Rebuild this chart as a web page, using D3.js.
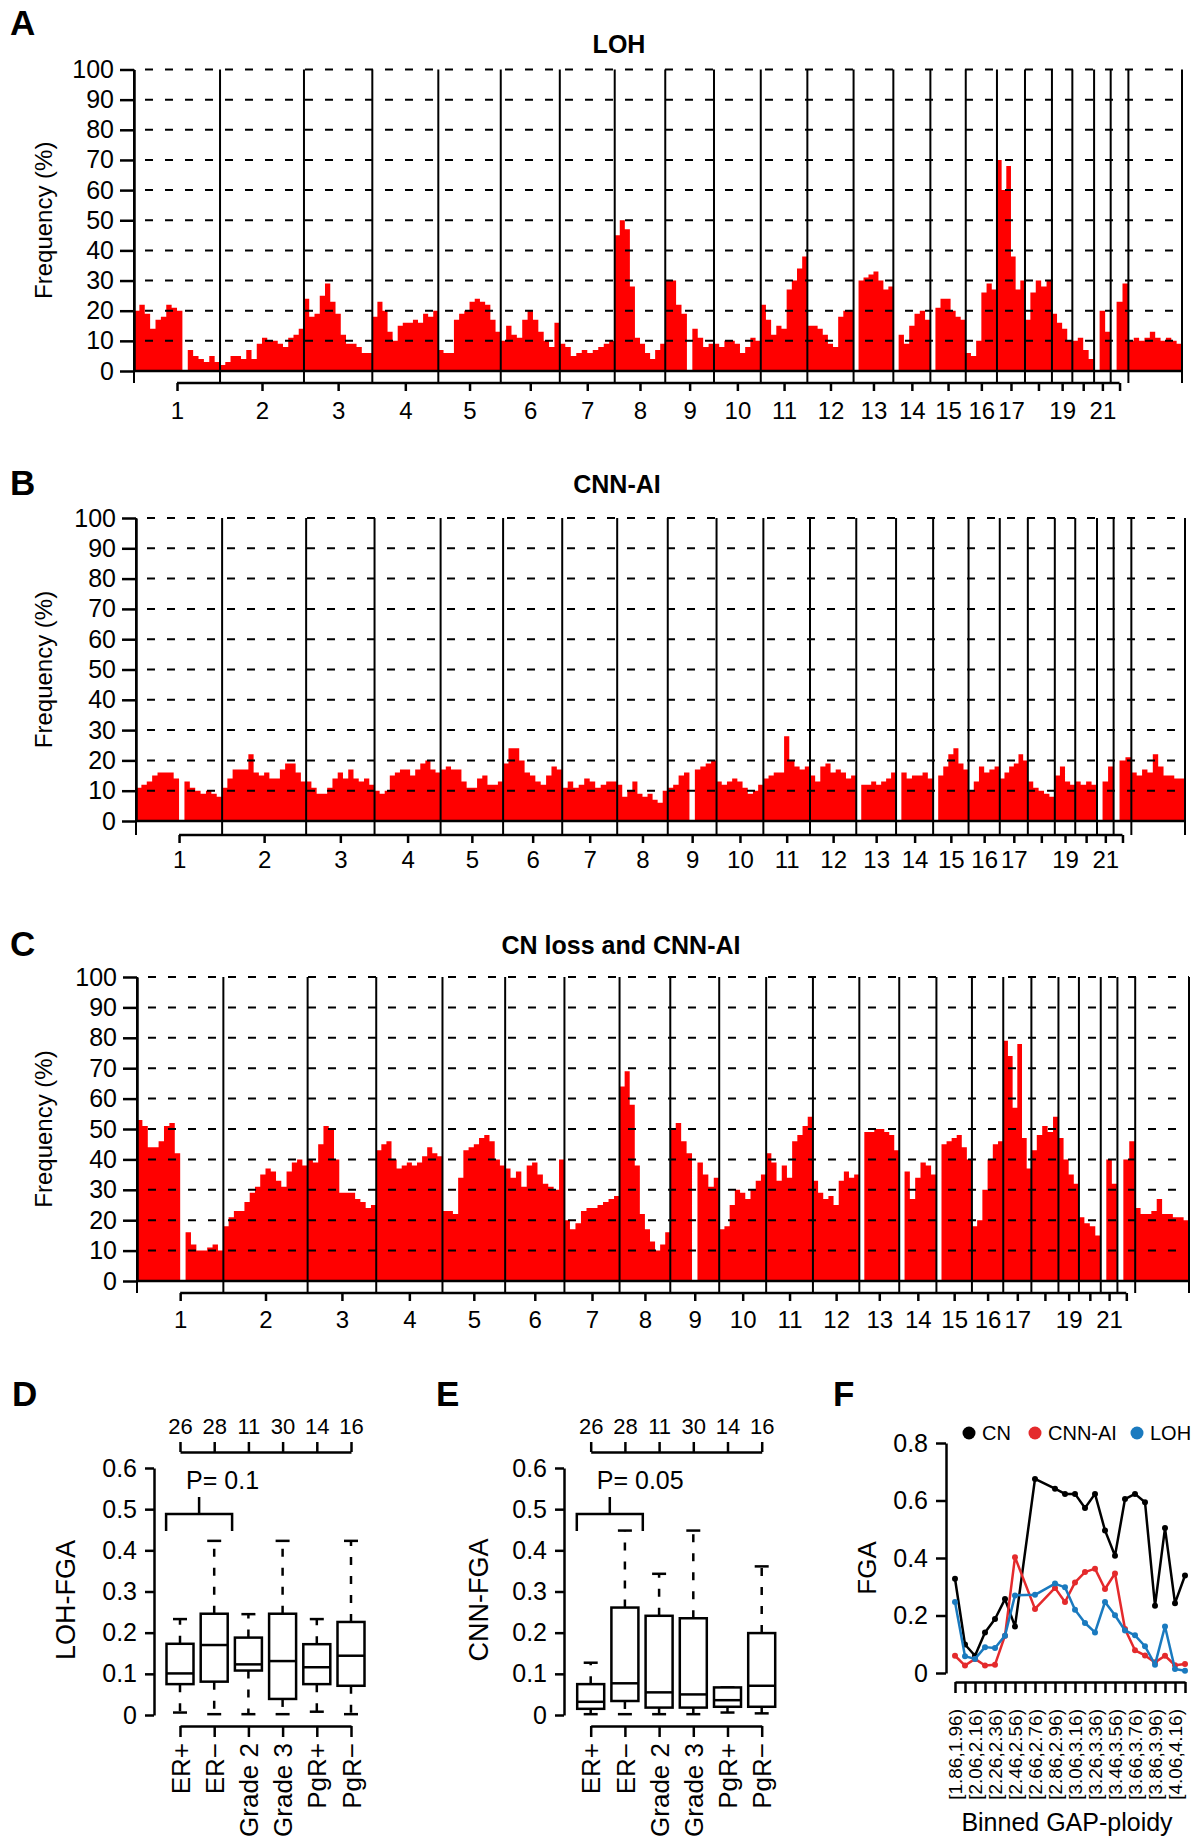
<!DOCTYPE html>
<html>
<head>
<meta charset="utf-8">
<title>LOH, CNN-AI and FGA</title>
<script src="https://cdn.jsdelivr.net/npm/d3@7"></script>
<style>
  body { margin: 0; background: #fff; }
</style>
</head>
<body>
<div id="chart"></div>
<script>
// chromosome layout, hg19 lengths in Mb
var chromNames = ["1","2","3","4","5","6","7","8","9","10","11","12","13","14","15","16","17","18","19","20","21","22","X"];
var chromLengths = [249.25, 243.2, 198.0, 191.2, 180.9, 171.1, 159.1, 146.4, 141.2, 135.5, 135.0, 133.9,
                    115.2, 107.3, 102.5, 90.4, 81.2, 78.1, 59.1, 63.0, 48.1, 51.3, 155.3];
// labels under the ticks of chr 1..22 (R dropped the ones that collide)
var chromLabels = ["1","2","3","4","5","6","7","8","9","10","11","12","13","14","15","16","17","","19","","21",""];

// frequency (%) per chromosome, evenly spaced segments
var lohFreq = [
  [20, 22, 19, 14, 17, 18, 22, 21, 20, 0, 7, 5, 4, 3, 5, 3],
  [2, 3, 5, 5, 4, 7, 4, 9, 11, 10, 10, 9, 8, 11, 12, 14],
  [24, 18, 19, 25, 29, 23, 19, 12, 9, 9, 8, 6, 6],
  [18, 23, 20, 13, 10, 15, 16, 16, 17, 16, 19, 18, 20],
  [7, 6, 6, 17, 19, 20, 23, 24, 23, 22, 17, 13],
  [10, 15, 12, 11, 17, 20, 17, 13, 10, 8, 16],
  [9, 8, 5, 6, 7, 6, 7, 8, 9, 10],
  [45, 50, 47, 28, 11, 9, 6, 4, 7, 9],
  [30, 30, 22, 19, 0, 14, 11, 8, 9],
  [9, 8, 10, 10, 9, 6, 8, 11, 10],
  [22, 17, 12, 15, 14, 27, 30, 34, 38],
  [15, 15, 14, 12, 9, 8, 18, 20, 20],
  [0, 30, 31, 32, 33, 30, 27, 28],
  [0, 12, 9, 15, 19, 20, 17],
  [0, 21, 24, 24, 20, 18, 17],
  [6, 5, 10, 26, 29, 27],
  [70, 60, 68, 38, 27, 30],
  [17, 26, 30, 28, 30],
  [19, 16, 14, 10],
  [10, 11, 7, 4],
  [0, 20, 13],
  [0, 23, 29],
  [10, 11, 10, 11, 13, 11, 10, 11, 10, 9]
];
var cnnaiFreq = [
  [11, 12, 13, 15, 16, 16, 16, 14, 0, 13, 11, 10, 9, 10, 9, 8],
  [11, 14, 17, 17, 17, 22, 16, 15, 16, 14, 14, 17, 19, 19, 16, 13],
  [13, 11, 9, 9, 11, 14, 16, 14, 17, 14, 13, 14, 12],
  [10, 9, 10, 15, 16, 17, 17, 15, 17, 19, 20, 17, 16],
  [17, 18, 17, 17, 13, 11, 11, 14, 15, 12, 12, 13],
  [19, 24, 24, 20, 16, 15, 13, 12, 15, 18, 17],
  [11, 13, 11, 12, 14, 13, 11, 12, 13, 13],
  [12, 8, 10, 13, 9, 8, 9, 7, 6, 10],
  [11, 12, 15, 16, 0, 17, 18, 19, 20],
  [13, 12, 13, 14, 13, 11, 9, 10, 12],
  [14, 15, 16, 16, 28, 20, 18, 17, 18],
  [15, 13, 18, 19, 16, 17, 16, 14, 15],
  [0, 12, 12, 13, 12, 13, 14, 16],
  [0, 16, 14, 15, 15, 16, 14],
  [0, 15, 18, 22, 24, 19, 17],
  [10, 13, 18, 16, 17, 18],
  [14, 16, 18, 19, 22, 20],
  [13, 11, 10, 9, 8],
  [15, 18, 13, 12],
  [13, 12, 13, 12],
  [0, 13, 18],
  [0, 20, 21],
  [16, 15, 17, 16, 22, 18, 15, 15, 14, 14]
];
var lossCnnaiFreq = [
  [53, 51, 44, 44, 46, 51, 52, 42, 0, 16, 12, 10, 10, 11, 12, 10],
  [18, 21, 23, 23, 26, 29, 31, 35, 37, 36, 33, 31, 36, 39, 40, 38],
  [40, 39, 45, 51, 50, 40, 29, 29, 29, 27, 26, 24, 25],
  [43, 45, 46, 40, 37, 38, 39, 38, 39, 41, 44, 42, 41],
  [23, 23, 22, 34, 43, 44, 45, 47, 48, 46, 40, 38],
  [37, 34, 36, 31, 38, 39, 35, 32, 31, 30, 40],
  [20, 17, 19, 23, 24, 24, 25, 26, 27, 28],
  [64, 69, 58, 38, 22, 17, 13, 10, 12, 16],
  [50, 52, 46, 42, 0, 39, 35, 31, 34],
  [17, 18, 25, 30, 29, 27, 30, 33, 35],
  [42, 39, 33, 38, 34, 46, 48, 51, 54],
  [33, 29, 27, 28, 25, 33, 36, 34, 35],
  [0, 49, 49, 50, 50, 49, 48, 43],
  [0, 36, 27, 34, 39, 38, 35],
  [0, 45, 46, 47, 48, 44, 40],
  [18, 20, 30, 40, 45, 46],
  [79, 74, 57, 78, 47, 37],
  [43, 48, 51, 49, 54],
  [47, 40, 35, 32],
  [21, 19, 18, 15],
  [0, 40, 32],
  [0, 40, 46],
  [24, 22, 22, 23, 27, 22, 22, 21, 21, 20]
];

// boxplots: [lower whisker, Q1, median, Q3, upper whisker]
var boxGroups = ["ER+", "ER\u2212", "Grade 2", "Grade 3", "PgR+", "PgR\u2212"];
var groupCounts = [26, 28, 11, 30, 14, 16];
var lohFgaStats = [
  [0.006, 0.075, 0.101, 0.173, 0.233],
  [0.002, 0.081, 0.170, 0.246, 0.423],
  [0.002, 0.108, 0.123, 0.188, 0.245],
  [0.002, 0.039, 0.131, 0.246, 0.423],
  [0.008, 0.075, 0.116, 0.172, 0.233],
  [0.002, 0.071, 0.144, 0.226, 0.423]
];
var cnnFgaStats = [
  [0.002, 0.015, 0.032, 0.075, 0.127],
  [0.002, 0.034, 0.077, 0.261, 0.448],
  [0.002, 0.018, 0.055, 0.241, 0.343],
  [0.002, 0.018, 0.050, 0.235, 0.448],
  [0.006, 0.020, 0.036, 0.067, 0.067],
  [0.004, 0.020, 0.071, 0.199, 0.361]
];

// panel F: FGA by binned GAP ploidy (null = empty bin)
var ploidyBins = ["[1.86,1.96)","[1.96,2.06)","[2.06,2.16)","[2.16,2.26)","[2.26,2.36)","[2.36,2.46)",
                  "[2.46,2.56)","[2.56,2.66)","[2.66,2.76)","[2.76,2.86)","[2.86,2.96)","[2.96,3.06)",
                  "[3.06,3.16)","[3.16,3.26)","[3.26,3.36)","[3.36,3.46)","[3.46,3.56)","[3.56,3.66)",
                  "[3.66,3.76)","[3.76,3.86)","[3.86,3.96)","[3.96,4.06)","[4.06,4.16)","[4.16,4.26)"];
var fgaCN    = [0.328, 0.099, 0.060, 0.141, 0.188, 0.257, 0.162, null, 0.675, null, 0.641, 0.623,
                0.623, 0.574, 0.623, 0.496, 0.408, 0.605, 0.623, 0.594, 0.234, 0.504, 0.243, 0.339];
var fgaCNNAI = [0.060, 0.026, 0.049, 0.026, 0.029, 0.130, 0.403, null, 0.223, null, 0.296, 0.247,
                0.315, 0.351, 0.363, 0.292, 0.346, 0.153, 0.079, 0.061, 0.037, 0.060, 0.027, 0.031];
var fgaLOH   = [0.247, 0.058, 0.049, 0.090, 0.087, 0.130, 0.270, null, 0.272, null, 0.311, 0.298,
                0.220, 0.174, 0.141, 0.247, 0.201, 0.148, 0.131, 0.093, 0.029, 0.162, 0.014, 0.008];
var seriesNames = ["CN", "CNN-AI", "LOH"];
var seriesColours = ["#000000", "#e42a2c", "#1a7abf"];

var FONT = '"Liberation Sans", Arial, Helvetica, sans-serif';

var svg = d3.select("#chart").append("svg")
  .attr("width", 1200)
  .attr("height", 1846)
  .style("font-family", FONT)
  .style("background", "#fff");

var chromStarts = [];
var genomeLength = 0;
chromLengths.forEach(function(len){
  chromStarts.push(genomeLength);
  genomeLength += len;
});

function panelLetter(txt, x, y){
  svg.append("text")
    .attr("x", x).attr("y", y)
    .attr("font-size", 35)
    .attr("font-weight", "bold")
    .text(txt);
}

function styleAxis(g, size){
  g.attr("font-family", FONT).attr("font-size", size);
  g.selectAll("path,line").attr("stroke", "#000").attr("stroke-width", 2.5);
  g.selectAll("text").attr("fill", "#000");
}

function genomePanel(cfg){
  var x = d3.scaleLinear().domain([0, genomeLength]).range([cfg.left, cfg.right]);
  var y = d3.scaleLinear().domain([0, 100]).range([cfg.bottom, cfg.top]);
  var g = svg.append("g");

  var bins = [];
  cfg.values.forEach(function(vals, c){
    var step = chromLengths[c] / vals.length;
    vals.forEach(function(v, i){
      bins.push({pos: chromStarts[c] + i * step, val: v});
    });
  });
  bins.push({pos: genomeLength, val: 0});

  var area = d3.area()
    .curve(d3.curveStepAfter)
    .x(function(d){ return x(d.pos); })
    .y0(y(0))
    .y1(function(d){ return y(d.val); });

  g.append("path").datum(bins).attr("d", area).attr("fill", "#ff0000");

  g.selectAll("line.grid")
    .data(d3.range(10, 101, 10))
    .enter()
    .append("line")
    .attr("class", "grid")
    .attr("x1", cfg.left).attr("x2", cfg.right)
    .attr("y1", function(d){ return y(d); })
    .attr("y2", function(d){ return y(d); })
    .attr("stroke", "#000")
    .attr("stroke-width", 2)
    .attr("stroke-dasharray", "8,12")
    .attr("stroke-dashoffset", 9);

  g.append("line")
    .attr("x1", cfg.left).attr("x2", cfg.right)
    .attr("y1", y(0)).attr("y2", y(0))
    .attr("stroke", "#000").attr("stroke-width", 2.5);

  g.selectAll("line.bound")
    .data(chromStarts.concat([genomeLength]))
    .enter()
    .append("line")
    .attr("class", "bound")
    .attr("x1", function(d){ return x(d); })
    .attr("x2", function(d){ return x(d); })
    .attr("y1", y(100)).attr("y2", cfg.axisY)
    .attr("stroke", "#000").attr("stroke-width", 2);

  var yAxis = g.append("g")
    .attr("transform", "translate(" + cfg.left + ",0)")
    .call(d3.axisLeft(y).tickValues(d3.range(0, 101, 10)).tickSize(14).tickSizeOuter(0).tickPadding(6));
  styleAxis(yAxis, 25);

  // chromosome axis: ticks at the centres of chr1..22
  var centers = chromStarts.slice(0, 22).map(function(s, i){ return s + chromLengths[i] / 2; });
  var labelAt = new Map(centers.map(function(c, i){ return [c, chromLabels[i]]; }));
  var cAxis = g.append("g")
    .attr("transform", "translate(0," + cfg.axisY + ")")
    .call(d3.axisBottom(x).tickValues(centers).tickFormat(function(d){ return labelAt.get(d); })
      .tickSize(8).tickPadding(cfg.labelPad));
  cAxis.select(".domain").remove();
  cAxis.append("line")
    .attr("x1", x(centers[0])).attr("x2", x(centers[21]));
  styleAxis(cAxis, 24);

  svg.append("text")
    .attr("x", cfg.titleX).attr("y", cfg.titleY)
    .attr("text-anchor", "middle").attr("dy", "0.35em")
    .attr("font-size", 25).attr("font-weight", "bold")
    .text(cfg.title);

  svg.append("text")
    .attr("transform", "translate(44," + ((cfg.top + cfg.bottom) / 2) + ") rotate(-90)")
    .attr("text-anchor", "middle").attr("dy", "0.35em")
    .attr("font-size", 24)
    .text("Frequency (%)");

  panelLetter(cfg.letter, 10, cfg.letterY);
}

genomePanel({values: lohFreq, title: "LOH", letter: "A", letterY: 35,
  left: 134, right: 1182, top: 69.5, bottom: 371, axisY: 383, labelPad: 11,
  titleX: 619, titleY: 44});
genomePanel({values: cnnaiFreq, title: "CNN-AI", letter: "B", letterY: 495,
  left: 136, right: 1185, top: 518, bottom: 821, axisY: 835, labelPad: 8,
  titleX: 617, titleY: 484});
genomePanel({values: lossCnnaiFreq, title: "CN loss and CNN-AI", letter: "C", letterY: 956,
  left: 137, right: 1189, top: 977, bottom: 1281, axisY: 1293, labelPad: 10,
  titleX: 621, titleY: 945});

function boxPanel(cfg){
  var x = d3.scalePoint().domain(boxGroups).range([cfg.first, cfg.last]);
  var y = d3.scaleLinear().domain([0, 0.6]).range([1715, 1468]);
  var g = svg.append("g");
  var half = 13.5, cap = 7;

  var yAxis = g.append("g")
    .attr("transform", "translate(" + cfg.axisX + ",0)")
    .call(d3.axisLeft(y).tickValues([0, 0.1, 0.2, 0.3, 0.4, 0.5, 0.6])
      .tickFormat(function(d){ return d === 0 ? "0" : d3.format(".1f")(d); })
      .tickSize(9).tickSizeOuter(0).tickPadding(8));
  styleAxis(yAxis, 25);

  var top = g.append("g")
    .attr("transform", "translate(0,1452)")
    .call(d3.axisTop(x).tickFormat(function(d){ return groupCounts[boxGroups.indexOf(d)]; })
      .tickSize(10).tickSizeOuter(0).tickPadding(8));
  styleAxis(top, 22);

  var bottom = g.append("g")
    .attr("transform", "translate(0,1726)")
    .call(d3.axisBottom(x).tickSize(11).tickSizeOuter(0));
  styleAxis(bottom, 26);
  bottom.selectAll("text")
    .attr("transform", "rotate(-90)")
    .attr("text-anchor", "end")
    .attr("x", -17).attr("y", 0).attr("dy", "0.35em");

  var boxes = g.selectAll("g.box")
    .data(cfg.stats)
    .enter()
    .append("g")
    .attr("class", "box")
    .attr("transform", function(d, i){ return "translate(" + x(boxGroups[i]) + ",0)"; });

  boxes.append("line").attr("y1", function(d){ return y(d[3]); }).attr("y2", function(d){ return y(d[4]); })
    .attr("stroke", "#000").attr("stroke-width", 2.5).attr("stroke-dasharray", "8,11");
  boxes.append("line").attr("y1", function(d){ return y(d[1]); }).attr("y2", function(d){ return y(d[0]); })
    .attr("stroke", "#000").attr("stroke-width", 2.5).attr("stroke-dasharray", "8,11");
  boxes.append("line").attr("x1", -cap).attr("x2", cap)
    .attr("y1", function(d){ return y(d[4]); }).attr("y2", function(d){ return y(d[4]); })
    .attr("stroke", "#000").attr("stroke-width", 2.5);
  boxes.append("line").attr("x1", -cap).attr("x2", cap)
    .attr("y1", function(d){ return y(d[0]); }).attr("y2", function(d){ return y(d[0]); })
    .attr("stroke", "#000").attr("stroke-width", 2.5);
  boxes.append("rect")
    .attr("x", -half).attr("width", 2 * half)
    .attr("y", function(d){ return y(d[3]); })
    .attr("height", function(d){ return y(d[1]) - y(d[3]); })
    .attr("fill", "#fff").attr("stroke", "#000").attr("stroke-width", 2.5);
  boxes.append("line").attr("x1", -half).attr("x2", half)
    .attr("y1", function(d){ return y(d[2]); }).attr("y2", function(d){ return y(d[2]); })
    .attr("stroke", "#000").attr("stroke-width", 2.5);

  // ER+ vs ER- bracket
  var mid = (x(boxGroups[0]) + x(boxGroups[1])) / 2 + 2;
  var by = 1514;
  g.append("path")
    .attr("d", "M" + (mid - 33) + "," + (by + 17) + "V" + by + "H" + (mid + 33) + "V" + (by + 17) +
               "M" + mid + "," + by + "V" + (by - 17))
    .attr("fill", "none").attr("stroke", "#000").attr("stroke-width", 2.5);
  g.append("text")
    .attr("x", mid - 13).attr("y", 1489)
    .attr("font-size", 25)
    .text(cfg.pText);

  g.append("text")
    .attr("transform", "translate(" + cfg.labelX + ",1600) rotate(-90)")
    .attr("text-anchor", "middle").attr("dy", "0.35em")
    .attr("font-size", 27)
    .text(cfg.ylabel);

  panelLetter(cfg.letter, cfg.letterX, 1406);
}

boxPanel({stats: lohFgaStats, first: 180, last: 351, axisX: 154, labelX: 66,
  ylabel: "LOH-FGA", pText: "P= 0.1", letter: "D", letterX: 12});
boxPanel({stats: cnnFgaStats, first: 590.7, last: 761.7, axisX: 564, labelX: 479,
  ylabel: "CNN-FGA", pText: "P= 0.05", letter: "E", letterX: 436});

// panel F
(function(){
  var x = d3.scalePoint().domain(ploidyBins).range([955, 1185]);
  var y = d3.scaleLinear().domain([0, 0.8]).range([1673, 1443]);
  var g = svg.append("g");

  var yAxis = g.append("g")
    .attr("transform", "translate(946,0)")
    .call(d3.axisLeft(y).tickValues([0, 0.2, 0.4, 0.6, 0.8])
      .tickFormat(function(d){ return d === 0 ? "0" : d3.format(".1f")(d); })
      .tickSize(10).tickSizeOuter(0).tickPadding(8));
  styleAxis(yAxis, 25);

  var xAxis = g.append("g")
    .attr("transform", "translate(0,1682)")
    .call(d3.axisBottom(x).tickSize(11).tickSizeOuter(0)
      .tickFormat(function(d){ var i = ploidyBins.indexOf(d); return i % 2 === 0 ? d : ""; }));
  styleAxis(xAxis, 19);
  xAxis.selectAll("text")
    .attr("transform", "rotate(-90)")
    .attr("text-anchor", "end")
    .attr("x", -27).attr("y", 0).attr("dy", "0.35em");

  var series = [fgaCN, fgaCNNAI, fgaLOH];
  var line = d3.line()
    .x(function(d){ return x(d.bin); })
    .y(function(d){ return y(d.v); });

  series.forEach(function(vals, s){
    var pts = vals.map(function(v, i){ return {bin: ploidyBins[i], v: v}; })
      .filter(function(d){ return d.v !== null; });
    g.append("path").datum(pts)
      .attr("d", line)
      .attr("fill", "none")
      .attr("stroke", seriesColours[s])
      .attr("stroke-width", 2.5)
      .attr("stroke-linejoin", "round");
    g.selectAll("circle.s" + s)
      .data(pts)
      .enter()
      .append("circle")
      .attr("class", "s" + s)
      .attr("cx", function(d){ return x(d.bin); })
      .attr("cy", function(d){ return y(d.v); })
      .attr("r", 3)
      .attr("fill", seriesColours[s]);
  });

  // legend
  var legendX = [969, 1035, 1137];
  var leg = g.selectAll("g.leg")
    .data(seriesNames)
    .enter()
    .append("g")
    .attr("class", "leg")
    .attr("transform", function(d, i){ return "translate(" + legendX[i] + ",1433)"; });
  leg.append("circle").attr("r", 6.5).attr("fill", function(d, i){ return seriesColours[i]; });
  leg.append("text")
    .attr("x", 13).attr("dy", "0.35em")
    .attr("font-size", 20)
    .text(function(d){ return d; });

  g.append("text")
    .attr("transform", "translate(867,1568) rotate(-90)")
    .attr("text-anchor", "middle").attr("dy", "0.35em")
    .attr("font-size", 26)
    .text("FGA");

  g.append("text")
    .attr("x", 1067).attr("y", 1822)
    .attr("text-anchor", "middle").attr("dy", "0.35em")
    .attr("font-size", 25)
    .text("Binned GAP-ploidy");

  panelLetter("F", 833, 1406);
})();
</script>
</body>
</html>
